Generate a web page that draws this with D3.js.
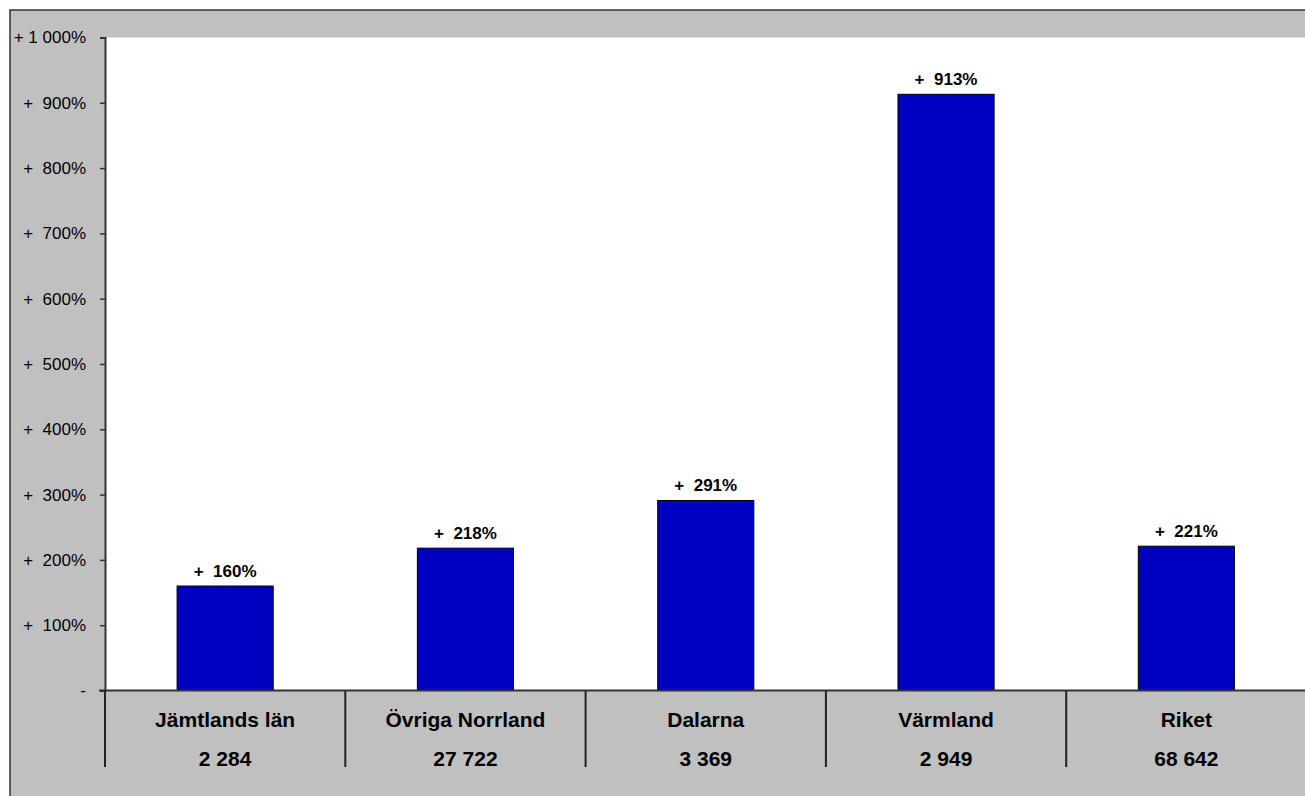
<!DOCTYPE html>
<html><head><meta charset="utf-8">
<script src="https://cdn.jsdelivr.net/npm/d3@7"></script>
<style>body{margin:0;background:#fff;overflow:hidden}svg{display:block}text{font-family:Arial,"Liberation Sans",sans-serif;white-space:pre}</style>
</head><body><svg id="c" width="1305" height="796"></svg>
<script>
const categories = ["Jämtlands län","Övriga Norrland","Dalarna","Värmland","Riket"];
const counts = ["2 284","27 722","3 369","2 949","68 642"];
const values = [160,218,291,913,221];
const yTicks = [0,100,200,300,400,500,600,700,800,900,1000];
const yTickLabels = ["-","+  100%","+  200%","+  300%","+  400%","+  500%","+  600%","+  700%","+  800%","+  900%","+ 1 000%"];
const barLabels = ["+  160%","+  218%","+  291%","+  913%","+  221%"];

const svg = d3.select("#c");
const W = 1305, H = 796;
const plot = {left:105, right:1306.5, top:37.5, bottom:690.5};

// outer chart frame (extends beyond the visible window on right and bottom)
svg.append("rect").attr("x",10).attr("y",10).attr("width",W+40).attr("height",H+40)
  .attr("fill","#c0c0c0").attr("stroke","#333").attr("stroke-width",1.5);
// plot area
svg.append("rect").attr("x",plot.left).attr("y",plot.top)
  .attr("width",W+20-plot.left).attr("height",plot.bottom-plot.top).attr("fill","#fff");

const x = d3.scaleBand().domain(categories).range([plot.left, plot.right]).paddingInner(0).paddingOuter(0);
const y = d3.scaleLinear().domain([0,1000]).range([plot.bottom, plot.top]);

// bars
const bw = x.bandwidth()*0.4;
svg.append("g").selectAll("rect").data(categories).join("rect")
  .attr("x", d => x(d)+x.bandwidth()/2-bw/2)
  .attr("y", (d,i) => y(values[i]))
  .attr("width", bw)
  .attr("height", (d,i) => y(0)-y(values[i]))
  .attr("fill","#0000c0").attr("stroke","#000").attr("stroke-width",1);

// bar labels
svg.append("g").selectAll("text").data(categories).join("text")
  .attr("x", d => x(d)+x.bandwidth()/2)
  .attr("y", (d,i) => y(values[i])-9)
  .attr("text-anchor","middle").attr("font-size",17).attr("font-weight","bold")
  .text((d,i)=>barLabels[i]);

// y axis
const yAxis = d3.axisLeft(y).tickValues(yTicks).tickSize(5).tickPadding(14)
  .tickFormat((d,i)=>yTickLabels[i]);
const gy = svg.append("g").attr("transform",`translate(${plot.left},0)`).call(yAxis);
gy.select(".domain").attr("stroke","#333").attr("stroke-width",2);
gy.selectAll(".tick line").attr("stroke","#333").attr("stroke-width",1.5);
gy.selectAll(".tick text").attr("font-size",17).attr("fill","#000")
  .attr("font-family","Arial, 'Liberation Sans', sans-serif");

// x axis baseline
svg.append("line").attr("x1",plot.left-6).attr("x2",W+10).attr("y1",y(0)).attr("y2",y(0))
  .attr("stroke","#333").attr("stroke-width",2);

// category separators
const seps = categories.map(d=>x(d));
svg.append("g").selectAll("line").data(seps).join("line")
  .attr("x1",d=>d).attr("x2",d=>d).attr("y1",y(0)).attr("y2",767)
  .attr("stroke","#222").attr("stroke-width",2);

// category labels
const gl = svg.append("g");
gl.selectAll("text.cat").data(categories).join("text").attr("class","cat")
  .attr("x", d => x(d)+x.bandwidth()/2).attr("y",727)
  .attr("text-anchor","middle").attr("font-size",21).attr("font-weight","bold")
  .text(d=>d);
gl.selectAll("text.cnt").data(categories).join("text").attr("class","cnt")
  .attr("x", d => x(d)+x.bandwidth()/2).attr("y",766)
  .attr("text-anchor","middle").attr("font-size",21).attr("font-weight","bold")
  .text((d,i)=>counts[i]);
</script></body></html>
